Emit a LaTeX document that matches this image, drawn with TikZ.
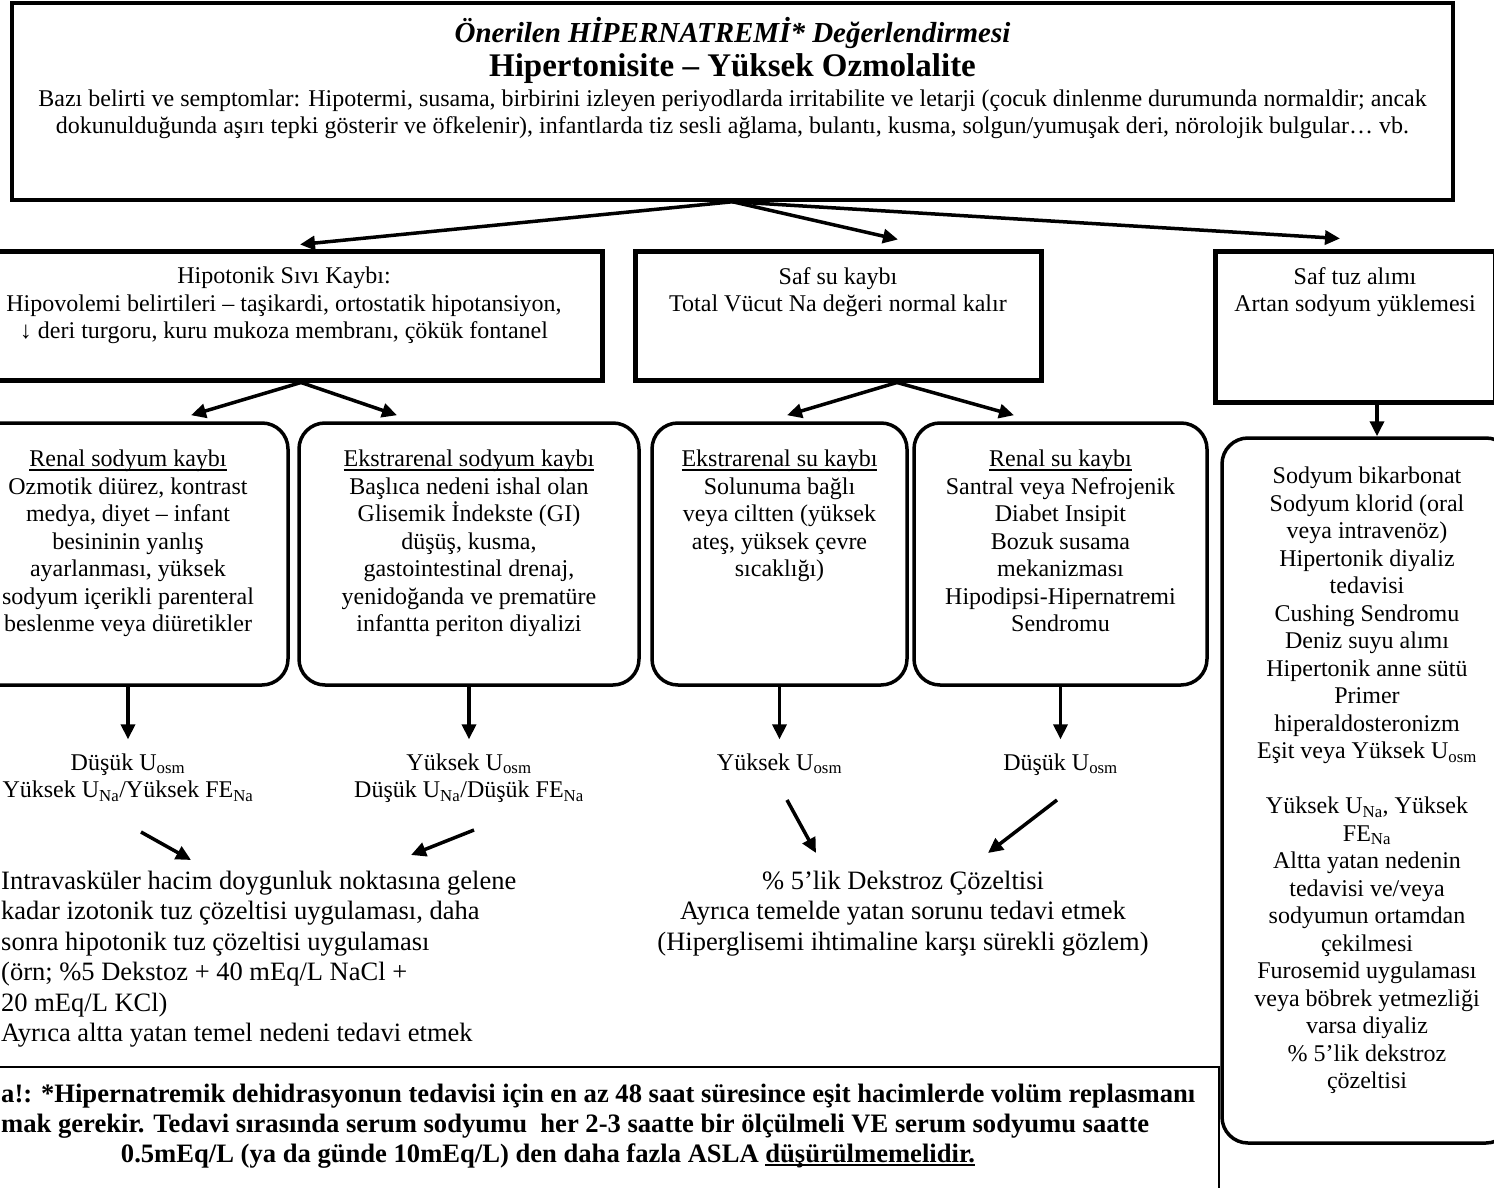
\documentclass[tikz,border=0pt]{standalone}
\usepackage{fontspec}
\setmainfont{Liberation Serif}
\usetikzlibrary{arrows.meta,positioning}

\newcommand{\ulwith}[2]{\setbox0=\hbox{#2}\rlap{\rule[-4pt]{\wd0}{#1}}\box0}

\tikzset{
	sqbox/.style={draw, line width=5pt, inner sep=0pt},
	rbox/.style={draw, line width=3.5pt, rounded corners=26pt, inner sep=0pt},
	boxtext/.style={align=center, inner sep=0pt, font=\fontsize{24}{27.5}\selectfont},
	treat/.style={inner sep=0pt, font=\fontsize{26.5}{30.4}\selectfont},
	notetext/.style={inner sep=0pt, font=\fontsize{26.6}{30}\selectfont\bfseries},
	arr/.style={line width=3.5pt, -{Triangle[length=15pt,width=14pt]}},
}

\begin{document}
\begin{tikzpicture}[x=1pt,y=-1pt]
	\useasboundingbox (0,0) rectangle (1494,1188);
	\clip (0,0) rectangle (1494,1188);
	% top box
	\node[sqbox, line width=3.5pt, minimum width=1441pt, minimum height=197pt] (top) at (732.5,101.5) {};
	\node[anchor=base, inner sep=0pt, font=\fontsize{29}{30}\selectfont\bfseries\itshape] (title) at (732.5,43) {Önerilen HİPERNATREMİ* Değerlendirmesi};
	\node[anchor=base, inner sep=0pt, font=\fontsize{33}{34}\selectfont\bfseries] (subtitle) at (732.5,77) {Hipertonisite – Yüksek Ozmolalite};
	\node[boxtext, font=\fontsize{24}{27}\selectfont, below=88.5pt of top.north] (signs) {Bazı belirti ve semptomlar: Hipotermi, susama, birbirini izleyen periyodlarda irritabilite ve letarji (çocuk dinlenme durumunda normaldir; ancak\\ dokunulduğunda aşırı tepki gösterir ve öfkelenir), infantlarda tiz sesli ağlama, bulantı, kusma, solgun/yumuşak deri, nörolojik bulgular… vb.};
	%
	% second row
	\node[sqbox, minimum width=636pt, minimum height=129pt] (hypo) at (284,315.5) {};
	\node[sqbox, minimum width=406pt, minimum height=129pt] (pure) at (838,315.5) {};
	\node[sqbox, minimum width=280pt, minimum height=151pt] (salt) at (1355,326.5) {};
	\node[boxtext, below=18.5pt of hypo.north] (hypoT) {Hipotonik Sıvı Kaybı:\\ Hipovolemi belirtileri – taşikardi, ortostatik hipotansiyon,\\ ↓ deri turgoru, kuru mukoza membranı, çökük fontanel};
	\node[boxtext, below=18.5pt of pure.north] (pureT) {Saf su kaybı\\ Total Vücut Na değeri normal kalır};
	\node[boxtext, below=18.5pt of salt.north] (saltT) {Saf tuz alımı\\ Artan sodyum yüklemesi};
	%
	% third row
	\node[rbox, minimum width=320pt, minimum height=262pt] (renalNa) at (128,554) {};
	\node[rbox, minimum width=340pt, minimum height=262pt] (extraNa) at (469,554) {};
	\node[rbox, minimum width=255pt, minimum height=262pt] (extraW) at (779.5,554) {};
	\node[rbox, minimum width=293pt, minimum height=262pt] (renalW) at (1060.5,554) {};
	\node[rbox, minimum width=290pt, minimum height=705pt] (extra) at (1367,790.5) {};
	\node[boxtext, below=28.6pt of renalNa.north] (renalNaT) {\ulwith{1.6pt}{Renal sodyum kaybı}\\ Ozmotik diürez, kontrast\\ medya, diyet – infant\\ besininin yanlış\\ ayarlanması, yüksek\\ sodyum içerikli parenteral\\ beslenme veya diüretikler};
	\node[boxtext, below=28.6pt of extraNa.north] (extraNaT) {\ulwith{1.6pt}{Ekstrarenal sodyum kaybı}\\ Başlıca nedeni ishal olan\\ Glisemik İndekste (GI)\\ düşüş, kusma,\\ gastointestinal drenaj,\\ yenidoğanda ve prematüre\\ infantta periton diyalizi};
	\node[boxtext, below=28.6pt of extraW.north] (extraWT) {\ulwith{1.6pt}{Ekstrarenal su kaybı}\\ Solunuma bağlı\\ veya ciltten (yüksek\\ ateş, yüksek çevre\\ sıcaklığı)};
	\node[boxtext, below=28.6pt of renalW.north] (renalWT) {\ulwith{1.6pt}{Renal su kaybı}\\ Santral veya Nefrojenik\\ Diabet Insipit\\ Bozuk susama\\ mekanizması\\ Hipodipsi-Hipernatremi\\ Sendromu};
	\node[boxtext, below=30.6pt of extra.north] (extraT) {Sodyum bikarbonat\\ Sodyum klorid (oral\\ veya intravenöz)\\ Hipertonik diyaliz\\ tedavisi\\ Cushing Sendromu\\ Deniz suyu alımı\\ Hipertonik anne sütü\\ Primer\\ hiperaldosteronizm\\ Eşit veya Yüksek U\textsubscript{osm}\\[27.5pt] Yüksek U\textsubscript{Na}, Yüksek\\ FE\textsubscript{Na}\\ Altta yatan nedenin\\ tedavisi ve/veya\\ sodyumun ortamdan\\ çekilmesi\\ Furosemid uygulaması\\ veya böbrek yetmezliği\\ varsa diyaliz\\ \% 5’lik dekstroz\\ çözeltisi};
	%
	% urine findings
	\node[boxtext, below=66.6pt of renalNa.south] (lblA) {Düşük U\textsubscript{osm}\\ Yüksek U\textsubscript{Na}/Yüksek FE\textsubscript{Na}};
	\node[boxtext, below=66.6pt of extraNa.south] (lblB) {Yüksek U\textsubscript{osm}\\ Düşük U\textsubscript{Na}/Düşük FE\textsubscript{Na}};
	\node[boxtext, below=66.6pt of extraW.south] (lblC) {Yüksek U\textsubscript{osm}};
	\node[boxtext, below=66.6pt of renalW.south] (lblD) {Düşük U\textsubscript{osm}};
	%
	% treatment
	\node[treat, align=left, anchor=north west] (treatL) at (1,871) {Intravasküler hacim doygunluk noktasına gelene\\ kadar izotonik tuz çözeltisi uygulaması, daha\\ sonra hipotonik tuz çözeltisi uygulaması\\ (örn; \%5 Dekstoz + 40 mEq/L NaCl +\\ 20 mEq/L KCl)\\ Ayrıca altta yatan temel nedeni tedavi etmek};
	\node[treat, align=center, anchor=north] (treatM) at (903,871) {\% 5’lik Dekstroz Çözeltisi\\ Ayrıca temelde yatan sorunu tedavi etmek\\ (Hiperglisemi ihtimaline karşı sürekli gözlem)};
	%
	% note
	\node[draw, line width=1.5pt, minimum width=1229pt, minimum height=143pt] (notebox) at (604.5,1138.5) {};
	\node[notetext, anchor=base west] (note1) at (1,1102) {a!: *Hipernatremik dehidrasyonun tedavisi için en az 48 saat süresince eşit hacimlerde volüm replasmanı};
	\node[notetext, anchor=base west] (note2) at (1,1132) {mak gerekir. Tedavi sırasında serum sodyumu\ \ her 2-3 saatte bir ölçülmeli VE serum sodyumu saatte};
	\node[notetext, anchor=base] (note3) at (548,1162) {0.5mEq/L (ya da günde 10mEq/L) den daha fazla ASLA \ulwith{2.4pt}{düşürülmemelidir.}};
	%
	\coordinate (dAs) at (141,832);
	\coordinate (dAe) at (191,860);
	\coordinate (dBs) at (474,830);
	\coordinate (dBe) at (411,855);
	\coordinate (dCs) at (787,800);
	\coordinate (dCe) at (816,853);
	\coordinate (dDs) at (1057,800);
	\coordinate (dDe) at (988,853);
	%
	\path[arr]
	(top.south) edge ([xshift=16pt,yshift=4pt]hypo.north)
	(top.south) edge ([xshift=60pt,yshift=9pt]pure.north)
	(top.south) edge ([xshift=-15pt,yshift=10pt]salt.north)
	([xshift=17pt]hypo.south) edge ([xshift=63pt,yshift=6pt]renalNa.north)
	([xshift=17pt]hypo.south) edge ([xshift=-72pt,yshift=6pt]extraNa.north)
	([xshift=59pt]pure.south) edge ([xshift=7.5pt,yshift=6pt]extraW.north)
	([xshift=59pt]pure.south) edge ([xshift=-46.5pt,yshift=6pt]renalW.north)
	([xshift=22pt]salt.south) edge ([xshift=10pt]extra.north)
	(renalNa.south) edge ([yshift=14pt]lblA.north)
	(extraNa.south) edge ([yshift=14pt]lblB.north)
	(extraW.south) edge ([yshift=14pt]lblC.north)
	(renalW.south) edge ([yshift=14pt]lblD.north)
	(dAs) edge (dAe)
	(dBs) edge (dBe)
	(dCs) edge (dCe)
	(dDs) edge (dDe);
\end{tikzpicture}
\end{document}
